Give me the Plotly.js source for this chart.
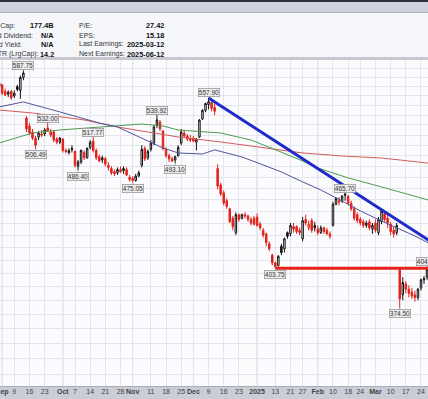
<!DOCTYPE html>
<html><head><meta charset="utf-8">
<script src="https://cdn.plot.ly/plotly-3.0.1.min.js"></script>
<style>html,body{margin:0;padding:0;background:#fff;}#chart{width:428px;height:399px;}</style>
</head><body><div id="chart"></div>
<script>
const dates = ['2024-08-30',
'2024-09-03','2024-09-04','2024-09-05','2024-09-06',
'2024-09-09','2024-09-10','2024-09-11','2024-09-12','2024-09-13',
'2024-09-16','2024-09-17','2024-09-18','2024-09-19','2024-09-20',
'2024-09-23','2024-09-24','2024-09-25','2024-09-26','2024-09-27',
'2024-09-30','2024-10-01','2024-10-02','2024-10-03','2024-10-04',
'2024-10-07','2024-10-08','2024-10-09','2024-10-10','2024-10-11',
'2024-10-14','2024-10-15','2024-10-16','2024-10-17','2024-10-18',
'2024-10-21','2024-10-22','2024-10-23','2024-10-24','2024-10-25',
'2024-10-28','2024-10-29','2024-10-30','2024-10-31','2024-11-01',
'2024-11-04','2024-11-05','2024-11-06','2024-11-07','2024-11-08',
'2024-11-11','2024-11-12','2024-11-13','2024-11-14','2024-11-15',
'2024-11-18','2024-11-19','2024-11-20','2024-11-21','2024-11-22',
'2024-11-25','2024-11-26','2024-11-27','2024-11-29',
'2024-12-02','2024-12-03','2024-12-04','2024-12-05','2024-12-06',
'2024-12-09','2024-12-10','2024-12-11','2024-12-12','2024-12-13',
'2024-12-16','2024-12-17','2024-12-18','2024-12-19','2024-12-20',
'2024-12-23','2024-12-24','2024-12-26','2024-12-27','2024-12-30','2024-12-31',
'2025-01-02','2025-01-03','2025-01-06','2025-01-07','2025-01-08','2025-01-10',
'2025-01-13','2025-01-14','2025-01-15','2025-01-16','2025-01-17',
'2025-01-21','2025-01-22','2025-01-23','2025-01-24',
'2025-01-27','2025-01-28','2025-01-29','2025-01-30','2025-01-31',
'2025-02-03','2025-02-04','2025-02-05','2025-02-06','2025-02-07',
'2025-02-10','2025-02-11','2025-02-12','2025-02-13','2025-02-14',
'2025-02-18','2025-02-19','2025-02-20','2025-02-21',
'2025-02-24','2025-02-25','2025-02-26','2025-02-27','2025-02-28',
'2025-03-03','2025-03-04','2025-03-05','2025-03-06','2025-03-07',
'2025-03-10','2025-03-11','2025-03-12','2025-03-13','2025-03-14',
'2025-03-17','2025-03-18','2025-03-19','2025-03-20','2025-03-21',
'2025-03-24','2025-03-25','2025-03-26','2025-03-27'];

const open = [570,
572,565,562,565, 560,570,566,580,537, 529,523,517,518,521, 521,527,523,523,516,
513,516,505,503,507, 504,490,494,503,498, 508,514,505,499,496, 497,491,488,485,484,
487,486,487,480,479, 477,481,491,507,498, 506,512,530,533,524, 506,500,497,496,500,
512,522,519,516, 517,513,518,536,545, 551,553,548,488,473, 466,459,452,444,432,
447,444,447,446,443,444, 445,439,434,431,423,414, 408,406,421,419,432, 431,437,437,434,
427,443,436,442,438, 435,432,436,434,431, 438,456,459,459,465, 463,457,452,447,
443,441,438,441,435, 440,432,441,448,444, 439,434,432,403,384, 392,388,386,384,382,
389,395,397,401];
const high = [576,
573,568,566,566, 566,572,582,587.75,539, 532,526,519,524,525, 527,532.00,526,525,518,
518,517,507,507,510, 505,496,506,505,508, 515,517.77,507,501,500, 499,494,490,487,489,
490,490,489,482,481, 483,486,510,509,506, 515,530,539.92,535,525, 508,502,499,500,510,
526,525,521,520, 519,517,536,546,553, 557.90,555,552,492,475, 468,461,453,446,449,
448,448,449,447,445,446, 448,441,436,432,425,415, 409,414,423,428,433, 440,440,438,436,
445,447,442,444,441, 438,438,437,436,433, 458,462,462,464,465.70, 464,459,454,449,
445,443,442,443,440, 443,445,452,451,447, 441,437,440,404,397, 394,391,389,387,389,
396,398,404.94,405];
const low = [566,
561,560,559,556, 558,565,557,577,523, 520,515,506.49,515,518, 519,523,518,513,511,
511,503,502,501,503, 489,486.40,492,496,497, 506,503,496,494,493, 490,486,482,481,482,
484,483,481,476,475.05, 476,480,489,495,496, 504,510,527,524,505, 498,494,494,493.10,499,
510,517,514,513, 513,505,517,535,543, 546,544,540,469,463, 455,452,440,434,430,
441,443,444,441,438,438, 437,434,428,421,417,406, 403.75,405,414,416,427, 429,432,431,430,
425,438,434,432,433, 430,431,431,430,427, 437,455,455,457,459, 455,450,442,440,
438,436,436,434,431, 432,430,439,441,436, 430,428,430,374.50,380, 385,382,381,379,380,
387,392,395,397];
const close = [574,
563,561,564,558, 563,567,580,585,526, 522,517,510,522,520, 525,524,520,515,513,
517,505,504,505,506, 491,494,505,498,507, 513,505,498,495,498, 492,489,484,483,487,
485,488,482,478,477, 481,484,506,497,504, 512,528,535,526,507, 500,497,495,499,508,
523,519,516,515, 514,516,535,545,552, 554,547,544,472,465, 457,454,441,437,447,
443,447,446,443,440,439, 438,436,430,424,419,408, 405,413,416,427,429, 438,435,433,432,
442,440,439,434,436, 432,436,433,431,429, 456,461,458,463,464, 457,452,444,442,
440,438,440,436,438, 434,443,450,443,440, 433,431,438,381,393, 388,385,383,382,388,
395,396,403,399];

const maBlueDates = ['2024-08-30','2024-09-12','2024-09-30','2024-10-17','2024-10-25','2024-11-06','2024-11-15','2024-11-22','2024-12-05','2024-12-11','2024-12-24','2025-01-06','2025-01-15','2025-01-27','2025-02-04','2025-02-13','2025-02-24','2025-03-05','2025-03-13','2025-03-20','2025-03-27'];
const maBlue = [548.5,553.7,543.3,532.0,528.0,517.1,507.4,502.6,501.6,505.5,498.8,491.3,484.8,475.7,468.5,458.8,450.2,441.7,435.1,429.3,423.0];
const maRedDates = ['2024-08-30','2024-09-17','2024-10-10','2024-10-25','2024-11-06','2024-11-22','2024-12-13','2025-01-06','2025-01-27','2025-02-13','2025-03-05','2025-03-27'];
const maRed = [545.3,542.2,535.1,528.0,524.0,518.1,513.2,507.4,502.6,499.7,497.8,492.8];
const maGreenDates = ['2024-08-30','2024-09-17','2024-09-30','2024-10-17','2024-11-06','2024-11-15','2024-11-22','2024-12-13','2024-12-30','2025-01-14','2025-01-27','2025-01-31','2025-02-18','2025-03-05','2025-03-27'];
const maGreen = [512.2,522.0,525.0,528.0,531.0,529.0,525.0,522.0,515.1,504.5,495.0,489.4,479.3,471.2,459.2];

// drawn trend lines
const trendDates = ['2024-12-09','2025-03-27'];
const trendVals = [557.90, 425.1];
const supportDates = ['2025-01-13','2025-03-27'];
const supportVals = [403.75, 403.75];

// price labels
const labelDates = ['2024-09-12','2024-09-18','2024-09-24','2024-10-08','2024-10-15','2024-11-01','2024-11-13','2024-11-21','2024-12-09','2025-01-13','2025-02-14','2025-03-13','2025-03-26'];
const labelVals = [587.75,506.49,532.00,486.40,517.77,475.05,539.92,493.10,557.90,403.75,465.70,374.50,404.94];
const labelSide = ['hi','lo','hi','lo','hi','lo','hi','lo','hi','lo','hi','lo','hi'];

// x axis ticks
const tickDates = ['2024-09-03','2024-09-09','2024-09-16','2024-09-23','2024-10-01','2024-10-07','2024-10-14','2024-10-21','2024-10-28','2024-11-01','2024-11-11','2024-11-18','2024-11-25','2024-12-02','2024-12-09','2024-12-16','2024-12-23','2025-01-02','2025-01-13','2025-01-21','2025-01-27','2025-02-03','2025-02-10','2025-02-18','2025-02-24','2025-03-03','2025-03-10','2025-03-17','2025-03-24'];
const tickText = ['Sep','9','16','23','Oct','7','14','21','28','Nov','11','18','25','Dec','9','16','23','2025','13','21','27','Feb','10','18','24','Mar','10','17','24'];

// header info
const infoLeftLabels = ['Mkt Cap:','Ind Dividend:','Ind Yield:','SCTR (LrgCap):'];
const infoLeftValues = ['177.4B','N/A','N/A','14.2'];
const infoRightLabels = ['P/E:','EPS:','Last Earnings:','Next Earnings:'];
const infoRightValues = ['27.42','15.18','2025-03-12','2025-06-12'];

// ---------- build ----------
const RED = '#e3221c', BLACK = '#111111';
const blackIdx = [], redIdx = [];
for (let i = 0; i < dates.length; i++) {
  const prev = i > 0 ? close[i-1] : open[i];
  (close[i] >= prev ? blackIdx : redIdx).push(i);
}
function candles(idx, col) {
  return {type:'candlestick', x: idx.map(i=>dates[i]), open: idx.map(i=>open[i]),
    high: idx.map(i=>high[i]), low: idx.map(i=>low[i]), close: idx.map(i=>close[i]),
    increasing:{line:{color:col,width:1}, fillcolor:'#ffffff'},
    decreasing:{line:{color:col,width:1}, fillcolor:col},
    whiskerwidth:0, hoverinfo:'skip', showlegend:false};
}
function line(x, y, col, w) {
  return {type:'scatter', mode:'lines', x:x, y:y, line:{color:col, width:w}, hoverinfo:'skip', showlegend:false};
}
const traces = [
  line(maRedDates, maRed, '#d65a5a', 1),
  line(maGreenDates, maGreen, '#4f9a52', 1),
  line(maBlueDates, maBlue, '#50539c', 1),
  candles(blackIdx, BLACK),
  candles(redIdx, RED),
  line(trendDates, trendVals, '#1f2bc9', 3),
  line(supportDates, supportVals, '#e8211d', 3)
];

const W = 428, T = 60, B = 386, H = B - T;
const xp = px => px / W;
const yp = px => (B - px) / H;
const FONT = 'Liberation Sans, Arial, sans-serif';

const shapes = [
  {type:'rect', xref:'paper', yref:'paper', x0:0, x1:1, y0:yp(0), y1:yp(2), fillcolor:'#2d3142', line:{width:0}, layer:'below'},
  {type:'rect', xref:'paper', yref:'paper', x0:0, x1:1, y0:yp(2), y1:yp(12), fillcolor:'#cdd2de', line:{width:0}, layer:'below'},
  {type:'rect', xref:'paper', yref:'paper', x0:0, x1:1, y0:yp(12), y1:yp(13), fillcolor:'#aeb3c0', line:{width:0}, layer:'below'},
  {type:'rect', xref:'paper', yref:'paper', x0:0, x1:1, y0:yp(13), y1:yp(57), fillcolor:'#f6f7fb', line:{width:0}, layer:'below'},
  {type:'rect', xref:'paper', yref:'paper', x0:0, x1:1, y0:yp(57), y1:yp(60), fillcolor:'#c6c9d1', line:{width:0}, layer:'below'},
  {type:'rect', xref:'paper', yref:'paper', x0:0, x1:1, y0:yp(386), y1:yp(399), fillcolor:'#cacdd6', line:{width:0}, layer:'below'},
  {type:'rect', xref:'paper', yref:'paper', x0:0, x1:1, y0:yp(386), y1:yp(387), fillcolor:'#a9adb8', line:{width:0}, layer:'below'}
];
// darker month grid lines
const firstOfMonth = dates.filter((d,i)=> i>0 && d.slice(0,7)!==dates[i-1].slice(0,7));
firstOfMonth.forEach(d => shapes.push({type:'line', xref:'x', yref:'paper', x0:d, x1:d, y0:0, y1:1, line:{color:'#d3d6de', width:1}, layer:'between'}));

const annotations = [];
const rows = [25.5, 35, 44.5, 54];
const leftEnds = [16.5, 35, 24, 41];
rows.forEach((r,i) => {
  annotations.push({xref:'paper', yref:'paper', x:xp(leftEnds[i]), y:yp(r), xanchor:'right', yanchor:'middle', text:infoLeftLabels[i], showarrow:false, font:{family:FONT, size:7, color:'#333'}});
  annotations.push({xref:'paper', yref:'paper', x:xp(55.5), y:yp(r), xanchor:'right', yanchor:'middle', text:'<b>'+infoLeftValues[i]+'</b>', showarrow:false, font:{family:FONT, size:7.3, color:'#111'}});
  annotations.push({xref:'paper', yref:'paper', x:xp(76.5), y:yp(r), xanchor:'left', yanchor:'middle', text:infoRightLabels[i], showarrow:false, font:{family:FONT, size:7, color:'#333'}});
  annotations.push({xref:'paper', yref:'paper', x:xp(165.5), y:yp(r), xanchor:'right', yanchor:'middle', text:'<b>'+infoRightValues[i]+'</b>', showarrow:false, font:{family:FONT, size:7.3, color:'#111'}});
});

labelDates.forEach((d,i) => {
  const hi = labelSide[i] === 'hi';
  annotations.push({x:d, y:Math.log10(labelVals[i]), xref:'x', yref:'y', text:labelVals[i].toFixed(2),
    showarrow:true, arrowhead:0, arrowwidth:0.8, arrowcolor:'#8a8a8a', ax:0, ay: hi ? -5 : 6,
    bgcolor:'#ececec', bordercolor:'#9a9a9a', borderwidth:0.8, borderpad:0,
    font:{family:FONT, size:6.5, color:'#333'}});
});

const firstSet = new Set(firstOfMonth.concat([dates[1]]));
const tickLabels = tickText.map((t,i) => firstSet.has(tickDates[i]) ? '<b>'+t+'</b>' : t);

const layout = {
  width:W, height:399, margin:{l:0, r:0, t:T, b:399-B, pad:0},
  paper_bgcolor:'#ffffff', plot_bgcolor:'#fcfcfe', showlegend:false,
  xaxis:{type:'category', categoryorder:'array', categoryarray:dates, range:[0.29,141.31],
    rangeslider:{visible:false}, tickmode:'array', tickvals:tickDates, ticktext:tickLabels,
    tickangle:0, automargin:false,
    showgrid:true, gridcolor:'#e4e6ed', gridwidth:1, ticks:'', showline:false, zeroline:false,
    tickfont:{family:FONT, size:7, color:'#444'}, fixedrange:true},
  yaxis:{type:'log', range:[2.50907,2.77786], dtick:'L10', tick0:0, showticklabels:false,
    showgrid:true, gridcolor:'#e4e6ed', gridwidth:1, zeroline:false, ticks:'', fixedrange:true},
  shapes:shapes, annotations:annotations
};
Plotly.newPlot('chart', traces, layout, {staticPlot:true, displayModeBar:false});
</script></body></html>
